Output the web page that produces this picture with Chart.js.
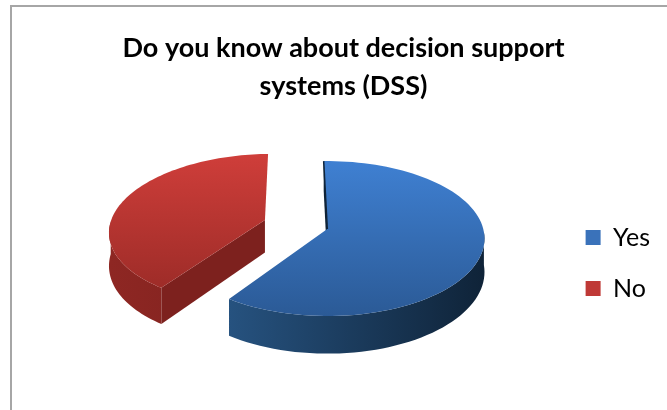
<!DOCTYPE html>
<html>
<head>
<meta charset="utf-8">
<style>
    html, body { margin: 0; background: #fff; }
    #frame { position: absolute; left: 10px; top: 5px; width: 657px; height: 405px; border-left: 2px solid #a6a6a6; border-top: 2px solid #a6a6a6; box-sizing: border-box; }
    #myChart { position: absolute; left: 0; top: 0; }
</style>
<script src="https://cdn.jsdelivr.net/npm/chart.js@4"></script>
</head>
<body>
<div id="frame"></div>
<canvas id="myChart" width="667" height="410"></canvas>
<script>
const titleLines = ["Do you know about decision support", "systems (DSS)"];
const categories = ["Yes", "No"];
const shares = [60, 40];
const sliceOffsets = [0, 66];
const legendColors = ["#3a72ba", "#bf3936"];
const topColors = [["#3f80d2", "#2b5a96"], ["#cf3e3a", "#9e2c28"]];
const wallColors = [["#26527f", "#0f2338"], ["#8e2723", "#7d211e"]];

// tilt of the pie plane
const tilt = 76.3;
const perspective = 0.1225;
const thickness = 33;
// the title and legend sit off centre, so the pie is moved sideways by hand
const pieShiftX = 34;

// Ground plane point (dx, dy from the pie centre, in px) to canvas
const project = (arc, dx, dy, drop = 0) => {
    const v = dy / arc.outerRadius;
    const w = 1 / (1 - perspective * v);
    return {
        x: arc.x + pieShiftX + dx * w,
        y: arc.y + tilt * v * w + drop * w,
    };
};

const rimPoints = (arc, drop = 0) => {
    const { startAngle, endAngle, outerRadius } = arc;
    const mid = (startAngle + endAngle) / 2;
    const ox = Math.cos(mid) * arc.options.offset;
    const oy = Math.sin(mid) * arc.options.offset;
    const points = [];
    const front = [];
    const steps = 90;
    for (let i = 0; i <= steps; i++) {
        const a = startAngle + ((endAngle - startAngle) * i) / steps;
        const p = project(arc, ox + Math.cos(a) * outerRadius, oy + Math.sin(a) * outerRadius, drop);
        points.push(p);
        if (Math.sin(a) >= 0) front.push(p); // only the near half of the rim shows a wall
    }
    return { points, front, apex: project(arc, ox, oy, drop) };
};

const tracePath = (ctx, points) => {
    ctx.beginPath();
    points.forEach((p, i) => (i ? ctx.lineTo(p.x, p.y) : ctx.moveTo(p.x, p.y)));
    ctx.closePath();
};

const spanOf = (points, key) => {
    const values = points.map((p) => p[key]);
    return [Math.min(...values), Math.max(...values)];
};

// Draw the slices as thick tilted wedges, keeping the angles the controller worked out
const tiltedPie = {
    id: "tiltedPie",
    beforeDatasetDraw(chart, args) {
        const { ctx } = chart;
        args.meta.data.forEach((arc, index) => {
            const top = rimPoints(arc);
            const bottom = rimPoints(arc, thickness);
            const [left, right] = spanOf(top.points, "x");
            const [upper, lower] = spanOf(top.points.concat(top.apex), "y");

            ctx.save();

            const wall = ctx.createLinearGradient(left, 0, right, 0);
            wall.addColorStop(0, wallColors[index][0]);
            wall.addColorStop(1, wallColors[index][1]);
            ctx.fillStyle = wall;
            tracePath(ctx, top.front.concat(bottom.front.slice().reverse()));
            ctx.fill();

            // cut face of the slice
            ctx.fillStyle = wallColors[index][1];
            const first = top.points[0];
            const firstLow = bottom.points[0];
            tracePath(ctx, [top.apex, first, firstLow, bottom.apex]);
            ctx.fill();

            const face = ctx.createLinearGradient(0, upper, 0, lower);
            face.addColorStop(0, topColors[index][0]);
            face.addColorStop(1, topColors[index][1]);
            ctx.fillStyle = face;
            tracePath(ctx, [top.apex].concat(top.points));
            ctx.fill();

            // thin dark edge where the yes slice starts
            if (index === 0) {
                ctx.strokeStyle = wallColors[0][1];
                ctx.lineWidth = 1.5;
                ctx.beginPath();
                ctx.moveTo(first.x, first.y);
                ctx.lineTo(top.apex.x, top.apex.y);
                ctx.stroke();
            }
            ctx.restore();
        });
        return false;
    },
};

const myChart = new Chart(document.querySelector("#myChart"), {
    type: "pie",
    data: {
        labels: categories,
        datasets: [
            {
                data: shares,
                offset: sliceOffsets,
                backgroundColor: legendColors,
                borderWidth: 0,
            },
        ],
    },
    plugins: [tiltedPie],
    options: {
        responsive: false,
        animation: false,
        radius: 156,
        rotation: -1.5,
        layout: { padding: { left: 27, right: 7, top: 16, bottom: 83 } },
        plugins: {
            tooltip: { enabled: false },
            title: {
                display: true,
                text: titleLines,
                color: "#000",
                font: { family: "Lato", size: 27, weight: "bold", lineHeight: 1.41 },
                padding: { top: 13, bottom: 26 },
            },
            legend: {
                position: "right",
                align: "end",
                labels: {
                    boxWidth: 15,
                    boxHeight: 15,
                    padding: 26,
                    color: "#000",
                    font: { family: "Lato", size: 25 },
                },
            },
        },
    },
});
</script>
</body>
</html>
